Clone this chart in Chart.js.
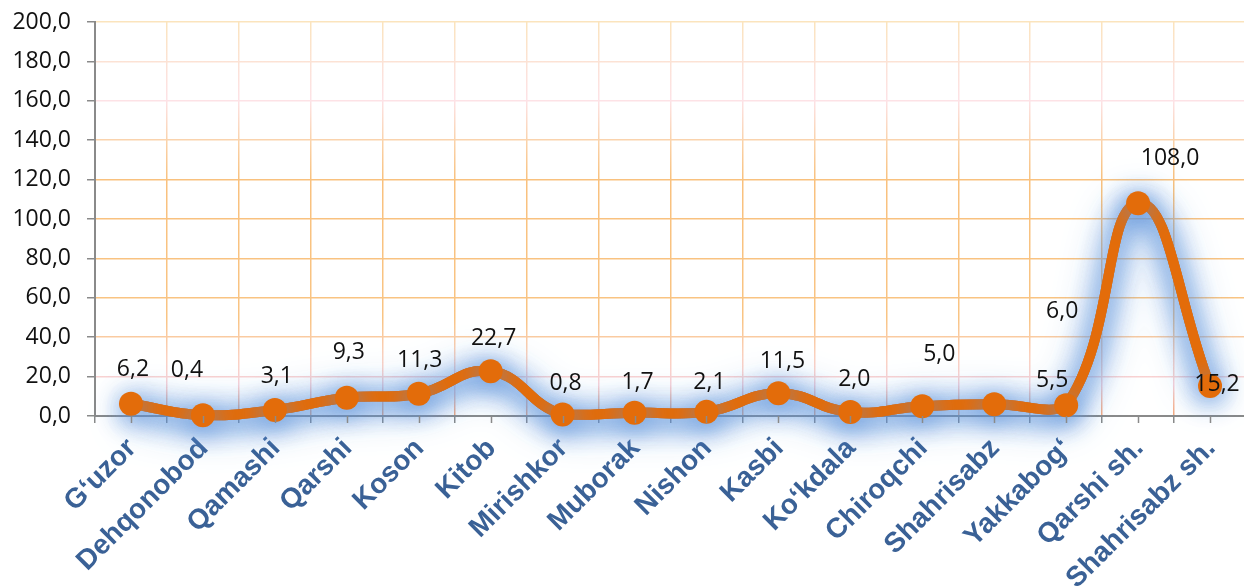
<!DOCTYPE html>
<html>
<head>
<meta charset="utf-8">
<script src="https://cdn.jsdelivr.net/npm/chart.js@4.4.1/dist/chart.umd.min.js"></script>
<style>
  html, body { margin: 0; padding: 0; background: #fff; overflow: hidden; }
  #wrap { width: 1258px; height: 587px; position: relative; }
</style>
</head>
<body>
<div id="wrap"><canvas id="myChart"></canvas></div>
<script>
const categories = ['G‘uzor', 'Dehqonobod', 'Qamashi', 'Qarshi', 'Koson', 'Kitob', 'Mirishkor', 'Muborak',
  'Nishon', 'Kasbi', 'Ko‘kdala', 'Chiroqchi', 'Shahrisabz', 'Yakkabog‘', 'Qarshi sh.', 'Shahrisabz sh.'];
const values = [6.2, 0.4, 3.1, 9.3, 11.3, 22.7, 0.8, 1.7, 2.1, 11.5, 2.0, 5.0, 6.0, 5.5, 108.0, 15.2];
const yTicks = [0, 20, 40, 60, 80, 100, 120, 140, 160, 180, 200];

// label placement (moved by hand in the original), pixels from the point
const labelOffsets = [[2, -34], [-16, -45], [2, -33], [2, -45], [1, -33], [3, -33], [3, -31], [3, -30],
  [3, -29], [4, -32], [4, -33], [17, -52], [68, -93], [-14, -25], [32, -45], [7, -2]];

function fmt(v) {
    return v.toFixed(1).replace('.', ',');
}

let gridGrad = null;
let gridKey = '';
function gridColor(context) {
    const chart = context.chart;
    const a = chart.chartArea;
    if (!a) return '#f8c384';
    const key = a.top + '_' + a.bottom;
    if (!gridGrad || gridKey !== key) {
        const g = chart.ctx.createLinearGradient(0, a.top, 0, a.bottom);
        g.addColorStop(0.00, '#fbe4bd');
        g.addColorStop(0.12, '#fce2d9');
        g.addColorStop(0.20, '#fde2e6');
        g.addColorStop(0.30, '#fad3ac');
        g.addColorStop(0.40, '#f9c17e');
        g.addColorStop(0.75, '#f9c483');
        g.addColorStop(0.85, '#fbd1c0');
        g.addColorStop(0.92, '#f9d2d8');
        g.addColorStop(1.00, '#f4a97c');
        gridGrad = g;
        gridKey = key;
    }
    return gridGrad;
}

// blue glow under the line (extra passes for a stronger halo)
const glowPlugin = {
    id: 'glow',
    beforeDatasetDraw(chart, args) {
        const ctx = chart.ctx;
        ctx.save();
        ctx.shadowColor = 'rgba(92, 146, 218, 0.9)';
        ctx.shadowBlur = 40;
        ctx.shadowOffsetX = 0;
        ctx.shadowOffsetY = 5;
        args.meta.dataset.draw(ctx, chart.chartArea);
        ctx.shadowBlur = 26;
        args.meta.dataset.draw(ctx, chart.chartArea);
    },
    afterDatasetDraw(chart) {
        chart.ctx.restore();
    }
};

// small tick marks at the category centres as well
const centreTicks = {
    id: 'centreTicks',
    afterDraw(chart) {
        const ctx = chart.ctx;
        const xs = chart.scales.x;
        ctx.save();
        ctx.strokeStyle = '#8a8a8a';
        ctx.lineWidth = 1.5;
        categories.forEach((c, i) => {
            const x = Math.round(xs.getPixelForValue(i)) + 0.5;
            ctx.beginPath();
            ctx.moveTo(x, xs.top);
            ctx.lineTo(x, xs.top + 7);
            ctx.stroke();
        });
        ctx.restore();
    }
};

const labelPlugin = {
    id: 'valueLabels',
    afterDatasetsDraw(chart) {
        const ctx = chart.ctx;
        const meta = chart.getDatasetMeta(0);
        ctx.save();
        ctx.font = '23px "Open Sans"';
        ctx.fillStyle = '#111';
        ctx.textAlign = 'center';
        ctx.textBaseline = 'middle';
        meta.data.forEach((pt, i) => {
            const off = labelOffsets[i] || [0, -32];
            ctx.fillText(fmt(values[i]), pt.x + off[0], pt.y + off[1]);
        });
        ctx.restore();
    }
};

const ctx = document.getElementById('myChart').getContext('2d');
const myChart = new Chart(ctx, {
    type: 'line',
    data: {
        labels: categories,
        datasets: [{
            data: values,
            borderColor: '#e36c0a',
            backgroundColor: '#e36c0a',
            borderWidth: 10,
            pointRadius: 12,
            pointHoverRadius: 12,
            pointBorderWidth: 0,
            tension: 0.45,
            clip: false
        }]
    },
    options: {
        responsive: true,
        maintainAspectRatio: false,
        animation: false,
        layout: { padding: { top: 22, right: 0, left: 0, bottom: 0 } },
        plugins: {
            legend: { display: false },
            tooltip: { enabled: false }
        },
        scales: {
            x: {
                offset: true,
                grid: {
                    offset: true,
                    color: gridColor,
                    lineWidth: 1.5,
                    tickColor: '#8a8a8a',
                    tickLength: 7
                },
                border: { color: '#8a8a8a', width: 2 },
                ticks: {
                    autoSkip: false,
                    minRotation: 45,
                    maxRotation: 45,
                    labelOffset: 1,
                    padding: 9,
                    color: '#3a6196',
                    font: { family: '"Liberation Sans", Arial, sans-serif', size: 28, weight: 'bold' }
                },
                afterFit(scale) { scale.height = 171; }
            },
            y: {
                min: 0,
                max: 200,
                afterBuildTicks(scale) {
                    scale.ticks = yTicks.map(v => ({ value: v }));
                },
                grid: {
                    color: gridColor,
                    lineWidth: 1.5,
                    tickColor: '#8a8a8a',
                    tickLength: 8
                },
                border: { color: '#8a8a8a', width: 2 },
                ticks: {
                    padding: 16,
                    color: '#111',
                    font: { family: '"Open Sans", sans-serif', size: 23 },
                    callback: function (value) { return fmt(value); }
                },
                afterFit(scale) {
                    scale.width = 95;
                    scale.paddingTop = 0;
                    scale.paddingBottom = 0;
                }
            }
        }
    },
    plugins: [glowPlugin, labelPlugin, centreTicks]
});
</script>
</body>
</html>
